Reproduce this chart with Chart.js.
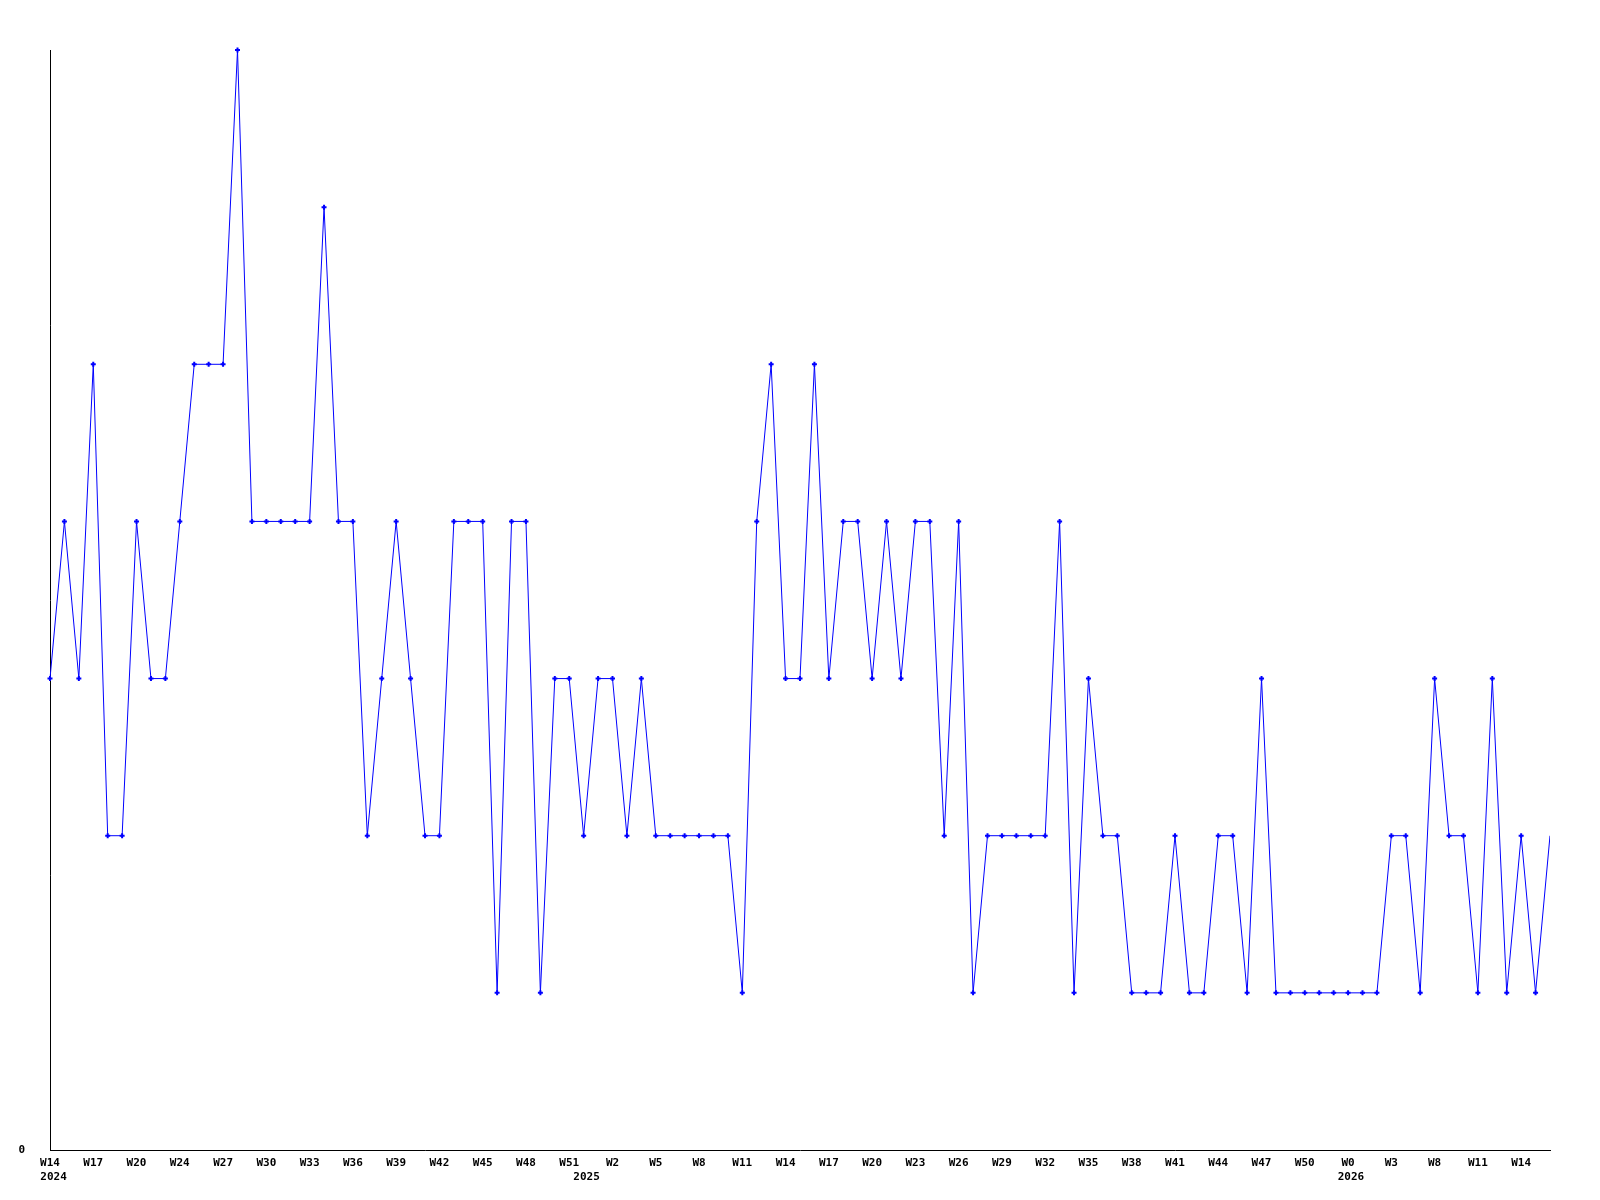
<!DOCTYPE html>
<html>
<head>
<meta charset="utf-8">
<script src="https://cdn.jsdelivr.net/npm/chart.js@4.4.1/dist/chart.umd.min.js"></script>
<style>
body { margin: 0; background: #fff; }
canvas { display: block; }
</style>
</head>
<body>
<canvas id="chart" width="1600" height="1200"></canvas>
<script>
// weekly counts, W14 2024 .. W14 2026
const counts = [
  3, 4, 3, 5, 2, 2, 4, 3, 3, 4, 5, 5, 5, 7, 4, 4, 4, 4, 4, 6,
  4, 4, 2, 3, 4, 3, 2, 2, 4, 4, 4, 1, 4, 4, 1, 3, 3, 2, 3, 3,
  2, 3, 2, 2, 2, 2, 2, 2, 1, 4, 5, 3, 3, 5, 3, 4, 4, 3, 4, 3,
  4, 4, 2, 4, 1, 2, 2, 2, 2, 2, 4, 1, 3, 2, 2, 1, 1, 1, 2, 1,
  1, 2, 2, 1, 3, 1, 1, 1, 1, 1, 1, 1, 1, 2, 2, 1, 3, 2, 2, 1,
  3, 1, 2, 1, 2
];

// one label every 3rd week
const weekTicks = [
  "W14", "W17", "W20", "W24", "W27", "W30", "W33", "W36", "W39", "W42",
  "W45", "W48", "W51", "W2", "W5", "W8", "W11", "W14", "W17", "W20",
  "W23", "W26", "W29", "W32", "W35", "W38", "W41", "W44", "W47", "W50",
  "W0", "W3", "W8", "W11", "W14"
];
const weekTickStep = 3;

const yearTicks = ["2024", "2025", "2026"];
const yearTickAt = [0.25, 37.2, 90.2];

const yMax = 7;

const last = counts.length - 1;
const tickFont = { family: "'DejaVu Sans Mono', monospace", size: 11, weight: "bold", lineHeight: 1.3 };

new Chart(document.getElementById("chart"), {
  type: "line",
  data: {
    datasets: [{
      data: counts.map((v, i) => ({ x: i, y: v })),
      borderColor: "#0000ff",
      borderWidth: 1,
      tension: 0,
      pointStyle: "cross",
      pointRadius: ctx => ctx.dataIndex === last ? 0 : 2.5,
      pointBorderWidth: 2,
      pointBorderColor: "#0000ff",
      pointBackgroundColor: "#0000ff",
      clip: { left: false, top: false, right: 0, bottom: false }
    }]
  },
  options: {
    responsive: false,
    animation: false,
    layout: { padding: { top: 50, right: 50, left: 0, bottom: 0 } },
    plugins: { legend: { display: false }, tooltip: { enabled: false } },
    scales: {
      x: {
        type: "linear",
        min: 0,
        max: last,
        grid: { display: false, drawTicks: false },
        border: { display: true, color: "#000", width: 1 },
        afterBuildTicks: scale => {
          const t = weekTicks.map((w, i) => ({ value: i * weekTickStep, text: w }));
          yearTicks.forEach((y, i) => t.push({ value: yearTickAt[i], text: ["", y] }));
          scale.ticks = t;
        },
        afterFit: scale => { scale.height = 50; },
        ticks: {
          autoSkip: false,
          maxRotation: 0,
          minRotation: 0,
          padding: 6,
          color: "#000",
          font: tickFont,
          callback: (v, i, ticks) => ticks[i].text
        }
      },
      y: {
        min: 0,
        max: yMax,
        grid: { display: false, drawTicks: false },
        border: { display: true, color: "#000", width: 1 },
        afterBuildTicks: scale => { scale.ticks = [{ value: 0 }]; },
        afterFit: scale => { scale.width = 50; },
        ticks: {
          padding: 25,
          color: "#000",
          font: tickFont,
          callback: v => String(v)
        }
      }
    }
  }
});
</script>
</body>
</html>
